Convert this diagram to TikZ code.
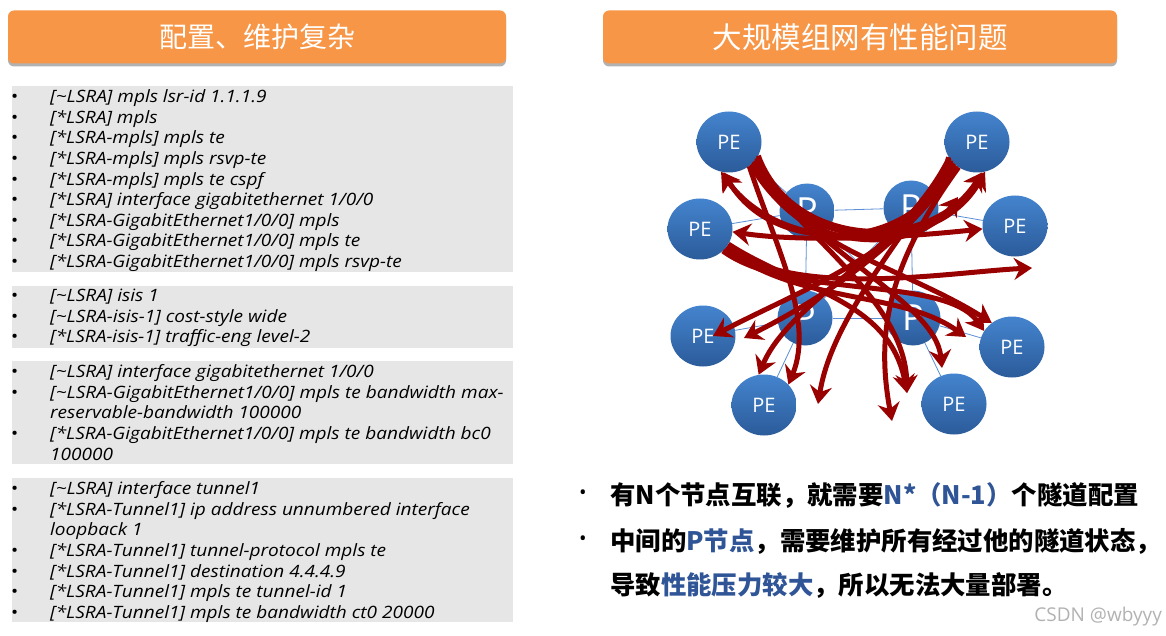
\documentclass[tikz,border=0pt]{standalone}
\usepackage{fontspec}
\usepackage{tikz}
\usetikzlibrary{arrows.meta,positioning,shadows,shapes.geometric}
\setmainfont{Open Sans}
\newfontfamily\codefont{Open Sans}[FakeStretch=1.12]
\newfontfamily\cjk{Noto Sans CJK SC}
\definecolor{hdrorange}{HTML}{F79646}
\definecolor{cfggray}{HTML}{E6E6E6}
\definecolor{nodetop}{HTML}{4484CE}
\definecolor{nodebot}{HTML}{2B5B9A}
\definecolor{linkblue}{HTML}{5B8FD6}
\definecolor{tunnelred}{HTML}{990000}
\definecolor{keyblue}{HTML}{2F5597}
\tikzset{
  header/.style={fill=hdrorange, rounded corners=6pt, minimum height=53pt, text=white, font=\cjk\fontsize{28}{30}\selectfont,
    drop shadow={shadow xshift=0pt, shadow yshift=-3pt, opacity=0.3, fill=black}},
  cfgbox/.style={fill=cfggray, anchor=north west, minimum width=501pt, inner sep=0pt},
  code/.style={anchor=north west, inner sep=0pt, font=\codefont\fontsize{17}{20.6}\selectfont\itshape},
  pe/.style={ellipse, minimum width=65pt, minimum height=61pt, inner sep=0pt, top color=nodetop, bottom color=nodebot,
    text=white, font=\fontsize{20}{20}\selectfont},
  prouter/.style={circle, minimum size=55pt, inner sep=0pt, top color=nodetop, bottom color=nodebot,
    text=white, font=\fontsize{36}{36}\selectfont},
  link/.style={draw=linkblue, line width=0.8pt},
  redtip/.tip={Stealth[length=18pt,width=22pt,inset=6pt]},
  tunnel/.style={draw=tunnelred, line width=5pt, -{redtip}},
  note/.style={anchor=west, inner sep=0pt, font=\cjk\bfseries\fontsize{25.4}{30}\selectfont},
  dot/.style={inner sep=0pt, font=\fontsize{20}{20}\selectfont}
}
\newcommand{\cfgdot}{{\upshape\textbullet}}

\begin{document}
\begin{tikzpicture}[x=1pt, y=-1pt]
  \useasboundingbox (0,0) rectangle (1166,636);
  \fill[white] (0,0) rectangle (1166,636);

  % headers
  \node[header, minimum width=498pt] (hdrL) at (257,37) {配置、维护复杂};
  \node[header, minimum width=514pt, font=\cjk\fontsize{29.5}{30}\selectfont] (hdrR) at (860,37) {大规模组网有性能问题};

  % configuration panels
  \node[cfgbox, minimum height=186pt] (cfgA) at (12,86) {};
  \node[cfgbox, minimum height=62pt] (cfgB) at (12,286) {};
  \node[cfgbox, minimum height=103pt] (cfgC) at (12,361) {};
  \node[cfgbox, minimum height=144pt] (cfgD) at (12,478) {};

  \node[code] (cfgAtxt) at (11,88) {\begin{tabular}{@{}p{39pt}@{}l@{}}
    \cfgdot & [\textasciitilde LSRA] mpls lsr-id 1.1.1.9\\
    \cfgdot & [*LSRA] mpls\\
    \cfgdot & [*LSRA-mpls] mpls te\\
    \cfgdot & [*LSRA-mpls] mpls rsvp-te\\
    \cfgdot & [*LSRA-mpls] mpls te cspf\\
    \cfgdot & [*LSRA] interface gigabitethernet 1/0/0\\
    \cfgdot & [*LSRA-GigabitEthernet1/0/0] mpls\\
    \cfgdot & [*LSRA-GigabitEthernet1/0/0] mpls te\\
    \cfgdot & [*LSRA-GigabitEthernet1/0/0] mpls rsvp-te
  \end{tabular}};
  \node[code] (cfgBtxt) at (11,287) {\begin{tabular}{@{}p{39pt}@{}l@{}}
    \cfgdot & [\textasciitilde LSRA] isis 1\\
    \cfgdot & [\textasciitilde LSRA-isis-1] cost-style wide\\
    \cfgdot & [*LSRA-isis-1] traffic-eng level-2
  \end{tabular}};
  \node[code] (cfgCtxt) at (11,363) {\begin{tabular}{@{}p{39pt}@{}l@{}}
    \cfgdot & [\textasciitilde LSRA] interface gigabitethernet 1/0/0\\
    \cfgdot & [\textasciitilde LSRA-GigabitEthernet1/0/0] mpls te bandwidth max-\\
     & reservable-bandwidth 100000\\
    \cfgdot & [*LSRA-GigabitEthernet1/0/0] mpls te bandwidth bc0\\
     & 100000
  \end{tabular}};
  \node[code] (cfgDtxt) at (11,480) {\begin{tabular}{@{}p{39pt}@{}l@{}}
    \cfgdot & [\textasciitilde LSRA] interface tunnel1\\
    \cfgdot & [*LSRA-Tunnel1] ip address unnumbered interface\\
     & loopback 1\\
    \cfgdot & [*LSRA-Tunnel1] tunnel-protocol mpls te\\
    \cfgdot & [*LSRA-Tunnel1] destination 4.4.4.9\\
    \cfgdot & [*LSRA-Tunnel1] mpls te tunnel-id 1\\
    \cfgdot & [*LSRA-Tunnel1] mpls te bandwidth ct0 20000
  \end{tabular}};

  % network
  \node[prouter] (pTL) at (807,211) {P};
  \node[prouter] (pTR) at (911,208) {P};
  \node[prouter] (pBL) at (805,318) {P};
  \node[prouter] (pBR) at (913,318) {P};
  \node[pe] (peTL) at (729,142) {PE};
  \node[pe] (peTR) at (977,142) {PE};
  \node[pe] (peL) at (700,229) {PE};
  \node[pe] (peR) at (1015,226) {PE};
  \node[pe] (peLL) at (703,336) {PE};
  \node[pe] (peLR) at (1012,347) {PE};
  \node[pe] (peBL) at (764,405) {PE};
  \node[pe] (peBR) at (954,404) {PE};

  \draw[link] (pTL) -- (pTR);
  \draw[link] (pBL) -- (pBR);
  \draw[link] (pTL) -- (pBL);
  \draw[link] (pTR) -- (pBR);
  \draw[link] (pTL) -- (pBR);
  \draw[link] (pTR) -- (pBL);
  \draw[link] (peTL) -- (pTL);
  \draw[link] (peL) -- (pTL);
  \draw[link] (peTR) -- (pTR);
  \draw[link] (peR) -- (pTR);
  \draw[link] (peLL) -- (pBL);
  \draw[link] (peBL) -- (pBL);
  \draw[link] (peLR) -- (pBR);
  \draw[link] (peBR) -- (pBR);

  % free ends of tunnels
  \coordinate (tA3) at (958,197);
  \coordinate (tA6) at (1032,268);
  \coordinate (tA8) at (966,337);
  \coordinate (tA9) at (942,368);
  \coordinate (tA10) at (907,393);
  \coordinate (tA11) at (892,421);
  \coordinate (tA13) at (744,338);
  \coordinate (tA16) at (818,404);

  % tunnels from upper left PE
  \draw[tunnel] (peTL.-30) .. controls (785,250) and (935,262) .. (peTR.-75);
  \draw[tunnel] (peTL.-25) .. controls (792,248) and (930,255) .. (peTR.-80);
  \draw[tunnel] (peTL.-38) .. controls (790,255) and (915,258) .. (tA3);
  \draw[tunnel] (peTL.-46) .. controls (795,245) and (905,268) .. (peLR.130);
  \draw[tunnel] (peTL.-34) .. controls (805,250) and (935,300) .. (tA9);
  \draw[tunnel] (peTL.-50) .. controls (775,245) and (815,320) .. (peBL.40);
  \draw[tunnel] (peTL.-42) .. controls (800,235) and (905,300) .. (tA10);
  % tunnels from upper right PE
  \draw[tunnel] (peTR.-145) .. controls (925,258) and (780,255) .. (peTL.-105);
  \draw[tunnel] (peTR.-152) .. controls (930,250) and (775,262) .. (peTL.-100);
  \draw[tunnel] (peTR.-138) .. controls (915,250) and (800,290) .. ([xshift=10pt]peLL.center);
  \draw[tunnel] (peTR.-132) .. controls (905,245) and (820,300) .. (tA13);
  \draw[tunnel] (peTR.-126) .. controls (890,262) and (875,330) .. (tA11);
  \draw[tunnel] (peTR.-150) .. controls (900,255) and (790,300) .. (peBL.100);
  \draw[tunnel] (peTR.-140) .. controls (880,265) and (830,330) .. (tA16);
  % tunnels from left PE
  \draw[tunnel, {redtip}-{redtip}] (peL.-5) .. controls (800,242) and (900,238) .. (peR.-175);
  \draw[tunnel] (peL.-32) .. controls (790,300) and (950,272) .. (tA6);
  \draw[tunnel] (peL.-38) .. controls (800,305) and (900,290) .. (tA8);
  \draw[tunnel] (peL.-44) .. controls (790,300) and (945,275) .. (peLR.150);
  \draw[tunnel] (peL.-28) .. controls (800,290) and (890,300) .. (tA10);

  % notes
  \node[dot] (d1) at (583,495) {•};
  \node[note] (n1) at (610,495) {有N个节点互联，就需要\textcolor{keyblue}{N*（N-1）}个隧道配置};
  \node[dot] (d2) at (583,541) {•};
  \node[note] (n2) at (610,541) {中间的\textcolor{keyblue}{P节点}，需要维护所有经过他的隧道状态，};
  \node[note] (n3) at (610,585) {导致\textcolor{keyblue}{性能压力较大}，所以无法大量部署。};
  \node[anchor=east, inner sep=0pt, text=black!30, font=\fontsize{19}{20}\selectfont] (wm) at (1162,617) {CSDN @wbyyy};
\end{tikzpicture}
\end{document}
